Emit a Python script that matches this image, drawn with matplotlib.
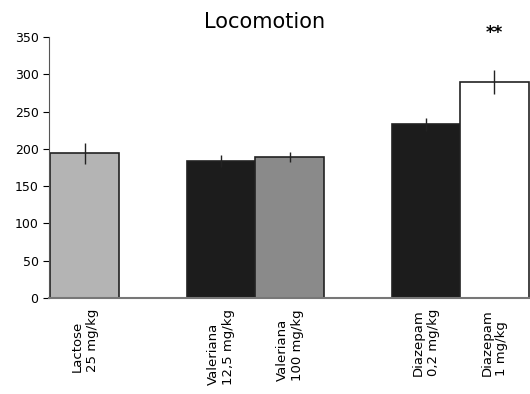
import matplotlib
matplotlib.use("Agg")
import matplotlib.pyplot as plt
import numpy as np

# data
labels = ["Lactose\n25 mg/kg", "Valeriana\n12,5 mg/kg", "Valeriana\n100 mg/kg",
          "Diazepam\n0,2 mg/kg", "Diazepam\n1 mg/kg"]
positions = [0, 2, 3, 5, 6]
values = [194, 184, 189, 233, 290]
errors = [14, 8, 7, 9, 16]
colors = ["#b4b4b4", "#1c1c1c", "#8a8a8a", "#1c1c1c", "#ffffff"]
yticks = [0, 50, 100, 150, 200, 250, 300, 350]

fig = plt.figure(figsize=(5.3, 3.94), dpi=100)
ax = fig.add_axes([0.0925, 0.2437, 0.9075, 0.6623])

ax.bar(positions, values, width=1.0, color=colors, edgecolor="#222222", linewidth=1.2)
ax.errorbar(positions, values, yerr=errors, fmt="none", ecolor="#222222", elinewidth=1, capsize=0)

# significance marker above the last bar
ax.text(positions[-1], values[-1] + 66, "**", ha="center", va="center",
        fontsize=12, fontweight="bold", clip_on=False)

ax.set_xlim(-0.52, 6.52)
ax.set_ylim(0, 350)
ax.set_yticks(yticks)
ax.set_xticks(positions)
ax.set_xticklabels(labels, rotation=90, fontsize=9.5, multialignment="left")
ax.tick_params(axis="x", length=0, pad=8)
ax.tick_params(axis="y", length=4, labelsize=9, direction="out")

for side in ["top", "right"]:
    ax.spines[side].set_visible(False)
ax.spines["left"].set_color("#555555")
ax.spines["bottom"].set_color("#777777")
ax.spines["bottom"].set_linewidth(1.5)

fig.text(0.5, 0.945, "Locomotion", ha="center", va="center", fontsize=15)

fig.savefig("out.png", dpi=100)
